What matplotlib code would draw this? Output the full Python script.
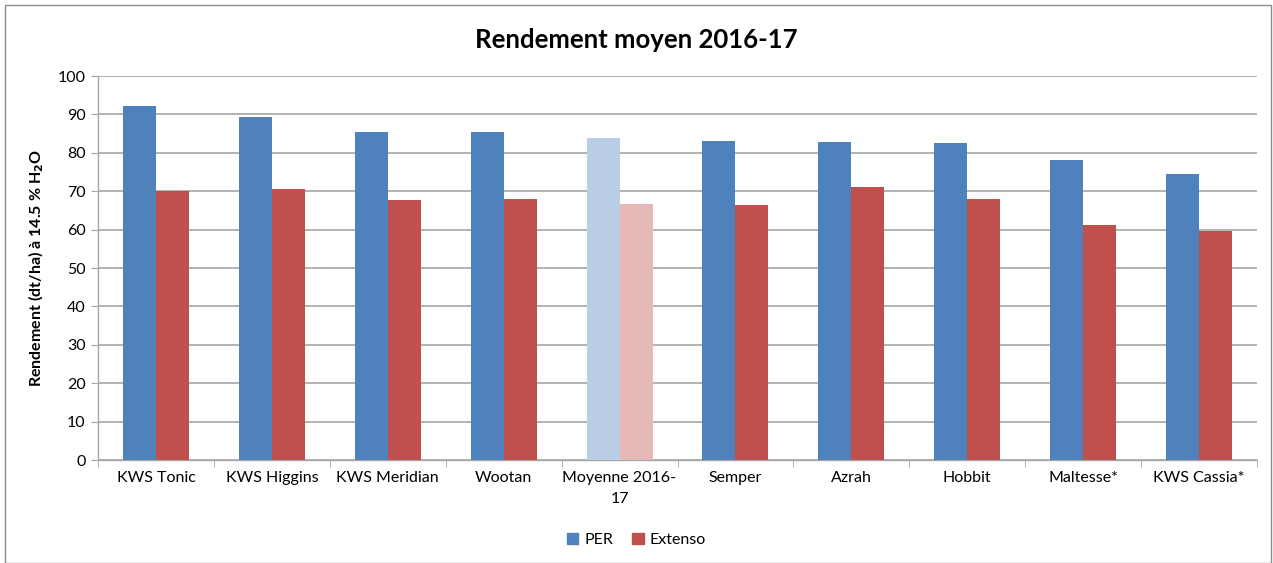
import matplotlib
matplotlib.use("Agg")
import matplotlib.pyplot as plt
import numpy as np
from matplotlib.patches import Patch, Rectangle

plt.rcParams['font.family'] = ['Lato', 'DejaVu Sans']

categories = ["KWS Tonic", "KWS Higgins", "KWS Meridian", "Wootan", "Moyenne 2016-\n17",
              "Semper", "Azrah", "Hobbit", "Maltesse*", "KWS Cassia*"]
per = [92.2, 89.3, 85.4, 85.4, 83.9, 83.0, 82.8, 82.5, 78.0, 74.6]
extenso = [70.0, 70.7, 67.6, 68.0, 66.7, 66.4, 71.1, 68.0, 61.2, 59.6]
highlight = 4

c_per, c_ext = "#4F81BD", "#C0504D"
c_per_l, c_ext_l = "#B9CDE5", "#E6B9B8"

fig = plt.figure(figsize=(12.73, 5.63), dpi=100)
ax = fig.add_axes([98/1273, 1-460/563, (1257-98)/1273, (460-76)/563])

x = np.arange(len(categories))
w = 0.285
cols_p = [c_per_l if i == highlight else c_per for i in x]
cols_e = [c_ext_l if i == highlight else c_ext for i in x]
ax.bar(x - w/2, per, w, color=cols_p, zorder=3)
ax.bar(x + w/2, extenso, w, color=cols_e, zorder=3)

ax.set_xlim(-0.5, len(categories) - 0.5)
ax.set_ylim(0, 100)
ax.set_yticks(range(0, 101, 10))
ax.yaxis.grid(True, color="#A6A6A6", linewidth=1.2, zorder=0)
ax.set_axisbelow(True)
for s in ["top", "right"]:
    ax.spines[s].set_visible(False)
for s in ["left", "bottom"]:
    ax.spines[s].set_color("#A6A6A6")
    ax.spines[s].set_linewidth(1.0)
ax.tick_params(axis="y", length=5, color="#A6A6A6", labelsize=11.5, pad=4)
ax.set_xticks(x)
ax.set_xticklabels(categories, fontsize=11.5, linespacing=1.6)
ax.tick_params(axis="x", length=0, pad=8)
ax.set_xticks(np.arange(-0.5, len(categories), 1), minor=True)
ax.tick_params(axis="x", which="minor", length=5, color="#A6A6A6")

ax.set_ylabel("Rendement (dt/ha) à 14.5 % H$_\\mathbf{2}$O", fontsize=11.5, fontweight="bold", labelpad=8)
fig.text(0.5, 1-40/563, "Rendement moyen 2016-17", ha="center", va="center",
         fontsize=18.5, fontweight="bold")

handles = [Patch(color=c_per, label="PER"), Patch(color=c_ext, label="Extenso")]
fig.legend(handles=handles, loc="center", bbox_to_anchor=(0.5, 1-540/563), ncol=2,
           frameon=False, fontsize=11.5, handlelength=0.7, handleheight=0.7,
           handletextpad=0.4, columnspacing=1.2)

fig.patches.append(Rectangle((5/1273, 0), 1266/1273, 1-5/563, transform=fig.transFigure,
                             fill=False, edgecolor="#8C8C8C", linewidth=1))

fig.savefig("out.png", dpi=100)
